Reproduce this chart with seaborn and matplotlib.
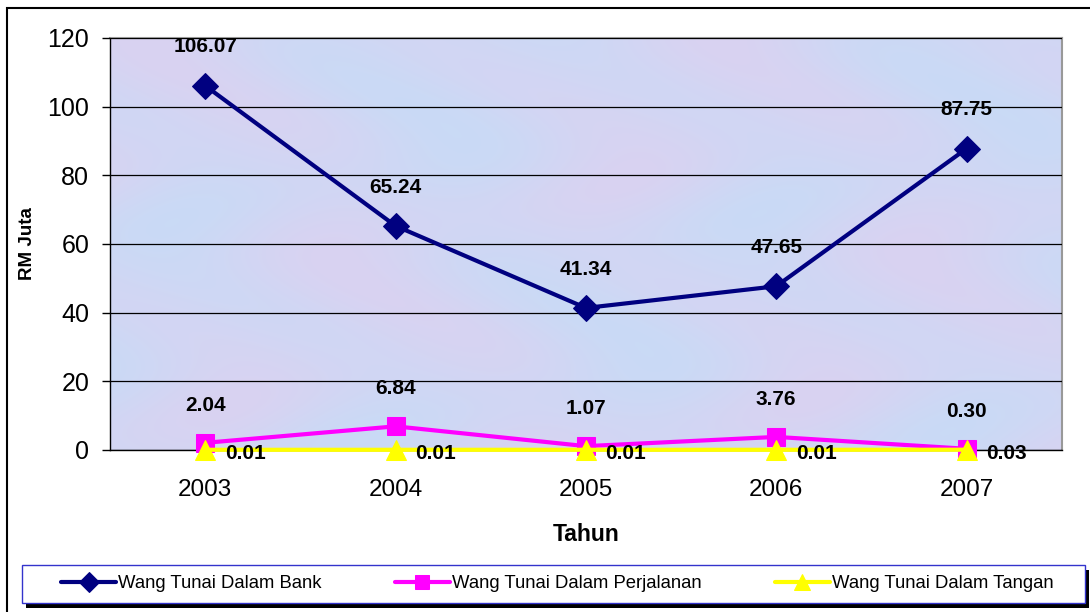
import numpy as np
import pandas as pd
import matplotlib.pyplot as plt
import seaborn as sns
from matplotlib.patches import Rectangle

# data
years = ['2003', '2004', '2005', '2006', '2007']
bank = [106.07, 65.24, 41.34, 47.65, 87.75]
perjalanan = [2.04, 6.84, 1.07, 3.76, 0.30]
tangan = [0.01, 0.01, 0.01, 0.01, 0.03]
names = ['Wang Tunai Dalam Bank', 'Wang Tunai Dalam Perjalanan', 'Wang Tunai Dalam Tangan']

sns.set_style('white')
plt.rcParams['font.family'] = ['Liberation Sans', 'DejaVu Sans']
plt.rcParams['text.color'] = 'black'
plt.rcParams['axes.labelcolor'] = 'black'
plt.rcParams['xtick.color'] = 'black'
plt.rcParams['ytick.color'] = 'black'

fig = plt.figure(figsize=(10.9, 6.12), dpi=100)
ax = fig.add_axes([0.101, 0.265, 0.873, 0.673])

# soft pastel backdrop (decoration only)
gx, gy = np.meshgrid(np.linspace(0, 12, 300), np.linspace(0, 7, 180))
mix = 0.5 + 0.25 * np.sin(gx * 1.3 + np.cos(gy * 1.7)) * np.cos(gy * 1.1 - gx * 0.4)
blue = np.array([0.76, 0.87, 0.97])
pink = np.array([0.88, 0.81, 0.94])
img = blue[None, None, :] * (1 - mix[..., None]) + pink[None, None, :] * mix[..., None]
ax.imshow(img, extent=(-0.5, 4.5, 0, 120), aspect='auto', zorder=0, interpolation='bilinear')

series = [
    (names[0], bank, '#000080', 'D', 13),
    (names[1], perjalanan, '#ff00ff', 's', 13),
    (names[2], tangan, '#ffff00', '^', 15),
]
for name, vals, col, mk, ms in series:
    df = pd.DataFrame({'Tahun': years, 'val': vals})
    sns.lineplot(data=df, x='Tahun', y='val', ax=ax, color=col, marker=mk,
                 markersize=ms, markeredgecolor=col, linewidth=3, label=name,
                 legend=False, zorder=3, clip_on=False)

# data labels
lab = dict(fontsize=15, fontweight='bold', textcoords='offset points', va='center')
for i, v in enumerate(bank):
    ax.annotate(f'{v:.2f}', (i, v), xytext=(0, 28), ha='center', **lab)
for i, v in enumerate(perjalanan):
    ax.annotate(f'{v:.2f}', (i, v), xytext=(0, 27), ha='center', **lab)
for i, v in enumerate(tangan):
    ax.annotate(f'{v:.2f}', (i, v), xytext=(14, -3), ha='left', zorder=5, **lab)

ax.set_xlim(-0.5, 4.5)
ax.set_ylim(0, 120)
ax.set_yticks(range(0, 121, 20))
ax.set_xticks(range(5))
ax.set_xticklabels(years)
ax.set_xticks([i + 0.5 for i in range(-1, 5)], minor=True)
ax.tick_params(axis='x', which='major', length=0, labelsize=17.5, pad=21)
ax.tick_params(axis='x', which='minor', length=6, width=1, color='#555555', direction='out')
ax.tick_params(axis='y', length=6, width=1, color='black', direction='out', labelsize=18,
               left=True, pad=9)
ax.grid(axis='y', color='black', linewidth=0.9, zorder=1)
ax.set_axisbelow(False)
for gl in ax.get_ygridlines():
    gl.set_zorder(1)
ax.set_xlabel('Tahun', fontsize=16.5, fontweight='bold', labelpad=16)
ax.set_ylabel('RM Juta', fontsize=13.5, fontweight='bold', labelpad=8)
for s in ['top', 'right']:
    ax.spines[s].set_color('#999999')
    ax.spines[s].set_linewidth(1.5)
for s in ['left', 'bottom']:
    ax.spines[s].set_color('black')
    ax.spines[s].set_linewidth(1)

# legend box with shadow
W, H = 1090, 612
fig.patches.append(Rectangle((26 / W, (H - 608) / H), 1063 / W, 38 / H, transform=fig.transFigure,
                             facecolor='black', edgecolor='none', zorder=1))
fig.patches.append(Rectangle((22 / W, (H - 603) / H), 1063 / W, 38 / H, transform=fig.transFigure,
                             facecolor='white', edgecolor='#3333cc', linewidth=1, zorder=2))
leg = fig.legend(*ax.get_legend_handles_labels(), loc='center left',
                 bbox_to_anchor=(61 / W, (H - 584) / H), ncol=3, frameon=False,
                 fontsize=13.3, handlelength=3.0, handletextpad=0.1, columnspacing=3.95,
                 borderpad=0, borderaxespad=0, markerscale=0.75)
leg.set_zorder(3)

fig.patches.append(Rectangle((0.006, -0.01), 1.1, 0.997, transform=fig.transFigure,
                             fill=False, edgecolor='black', linewidth=1.5))

fig.savefig('out.png', dpi=100)
